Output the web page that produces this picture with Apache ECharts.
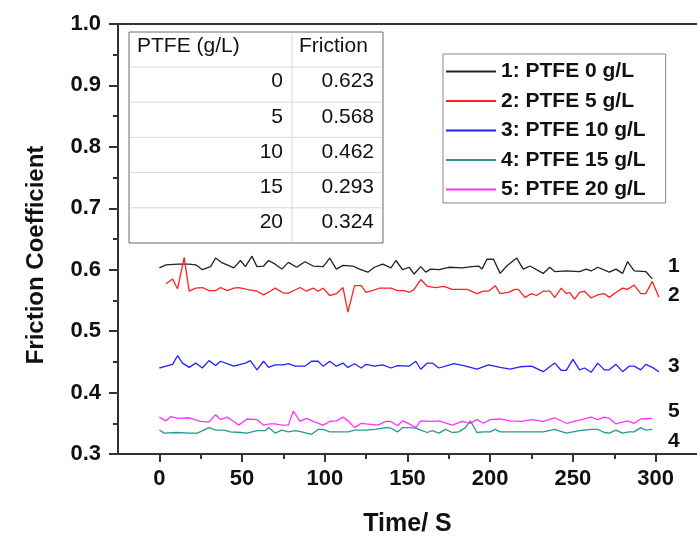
<!DOCTYPE html>
<html>
<head>
<meta charset="utf-8">
<script src="https://cdn.jsdelivr.net/npm/echarts@6/dist/echarts.min.js"></script>
<style>
  html, body { margin: 0; padding: 0; background: #fff; }
  #chart { width: 697px; height: 538px; }
</style>
</head>
<body>
<div id="chart"></div>
<script>
// friction coefficient vs time, one pair of arrays per PTFE concentration
const t1 = [0, 4, 11, 18, 22, 26, 31, 34, 38, 41, 45, 49, 52, 56, 59, 63, 66, 70, 74, 78, 83, 88, 93, 99, 103, 107, 111, 117, 121, 126, 130, 135, 140, 143, 147, 151, 154, 158, 161, 164, 169, 175, 183, 189, 193, 195, 198, 202, 206, 210, 216, 220, 224, 232, 236, 239, 246, 254, 258, 261, 265, 272, 276, 280, 283, 287, 294, 298];
const v1 = [0.603, 0.608, 0.609, 0.609, 0.608, 0.600, 0.605, 0.619, 0.611, 0.608, 0.603, 0.615, 0.605, 0.622, 0.605, 0.606, 0.615, 0.609, 0.601, 0.612, 0.604, 0.613, 0.606, 0.605, 0.619, 0.601, 0.607, 0.606, 0.601, 0.596, 0.604, 0.609, 0.603, 0.615, 0.600, 0.604, 0.593, 0.605, 0.596, 0.601, 0.600, 0.604, 0.603, 0.605, 0.606, 0.601, 0.617, 0.617, 0.594, 0.606, 0.619, 0.601, 0.606, 0.594, 0.604, 0.597, 0.598, 0.597, 0.601, 0.598, 0.604, 0.596, 0.601, 0.594, 0.613, 0.598, 0.597, 0.585];

const t2 = [4, 8, 11, 15, 18, 22, 26, 30, 34, 37, 41, 45, 48, 53, 59, 63, 67, 70, 75, 78, 82, 85, 89, 93, 96, 99, 103, 107, 111, 114, 118, 122, 125, 130, 133, 140, 144, 148, 151, 154, 158, 162, 167, 172, 177, 182, 186, 192, 196, 199, 203, 206, 211, 215, 217, 221, 225, 228, 232, 236, 239, 243, 246, 248, 251, 254, 257, 261, 265, 269, 272, 276, 280, 283, 287, 291, 294, 298, 302];
const v2 = [0.577, 0.585, 0.569, 0.620, 0.565, 0.570, 0.571, 0.566, 0.566, 0.571, 0.566, 0.570, 0.571, 0.568, 0.565, 0.559, 0.565, 0.570, 0.562, 0.562, 0.567, 0.571, 0.565, 0.570, 0.565, 0.570, 0.558, 0.561, 0.571, 0.531, 0.574, 0.574, 0.563, 0.567, 0.570, 0.570, 0.566, 0.566, 0.563, 0.568, 0.584, 0.573, 0.571, 0.573, 0.568, 0.568, 0.568, 0.561, 0.565, 0.565, 0.574, 0.561, 0.563, 0.568, 0.568, 0.555, 0.561, 0.558, 0.565, 0.565, 0.555, 0.570, 0.561, 0.563, 0.552, 0.563, 0.565, 0.554, 0.559, 0.561, 0.555, 0.563, 0.570, 0.568, 0.575, 0.561, 0.561, 0.581, 0.555];

const t3 = [0, 4, 8, 11, 14, 18, 22, 26, 30, 34, 37, 41, 45, 49, 52, 55, 59, 63, 66, 70, 75, 78, 82, 88, 92, 96, 99, 103, 107, 111, 114, 118, 122, 125, 130, 135, 140, 144, 151, 155, 158, 162, 165, 169, 174, 178, 184, 192, 199, 206, 212, 218, 225, 232, 239, 243, 246, 250, 254, 257, 261, 265, 269, 272, 276, 280, 284, 287, 291, 294, 298, 302];
const v3 = [0.440, 0.443, 0.446, 0.460, 0.448, 0.441, 0.448, 0.440, 0.452, 0.444, 0.451, 0.447, 0.443, 0.446, 0.448, 0.452, 0.437, 0.451, 0.441, 0.445, 0.445, 0.447, 0.443, 0.443, 0.451, 0.451, 0.443, 0.451, 0.443, 0.448, 0.441, 0.447, 0.440, 0.446, 0.443, 0.445, 0.440, 0.444, 0.443, 0.451, 0.438, 0.448, 0.448, 0.440, 0.444, 0.447, 0.444, 0.438, 0.445, 0.441, 0.438, 0.442, 0.443, 0.434, 0.448, 0.436, 0.436, 0.454, 0.437, 0.440, 0.433, 0.448, 0.437, 0.437, 0.446, 0.434, 0.443, 0.443, 0.437, 0.446, 0.441, 0.434];

const t4 = [0, 3, 10, 18, 23, 30, 34, 39, 43, 49, 53, 59, 64, 66, 70, 74, 78, 82, 86, 92, 96, 99, 103, 110, 114, 118, 125, 130, 137, 140, 144, 147, 151, 155, 158, 162, 165, 169, 173, 177, 181, 185, 188, 192, 196, 200, 203, 206, 212, 218, 225, 232, 239, 246, 254, 261, 265, 269, 272, 276, 280, 284, 287, 291, 294, 298];
const v4 = [0.339, 0.334, 0.335, 0.334, 0.334, 0.343, 0.339, 0.339, 0.336, 0.335, 0.334, 0.338, 0.338, 0.343, 0.334, 0.339, 0.336, 0.338, 0.336, 0.332, 0.340, 0.340, 0.336, 0.336, 0.336, 0.339, 0.339, 0.340, 0.343, 0.342, 0.336, 0.343, 0.343, 0.342, 0.339, 0.335, 0.338, 0.334, 0.340, 0.335, 0.336, 0.343, 0.354, 0.335, 0.336, 0.336, 0.340, 0.336, 0.336, 0.336, 0.336, 0.336, 0.340, 0.334, 0.338, 0.340, 0.340, 0.335, 0.334, 0.339, 0.334, 0.336, 0.336, 0.343, 0.339, 0.340];

const t5 = [0, 4, 7, 11, 18, 25, 30, 34, 37, 41, 45, 48, 53, 59, 63, 67, 70, 74, 78, 81, 85, 89, 93, 99, 103, 107, 111, 114, 118, 122, 125, 132, 137, 140, 144, 147, 151, 155, 158, 165, 169, 177, 183, 188, 192, 196, 200, 206, 212, 219, 225, 232, 239, 246, 254, 261, 265, 269, 272, 276, 283, 287, 291, 298];
const v5 = [0.360, 0.354, 0.361, 0.358, 0.359, 0.353, 0.352, 0.364, 0.356, 0.360, 0.353, 0.347, 0.357, 0.356, 0.347, 0.349, 0.349, 0.347, 0.347, 0.370, 0.353, 0.358, 0.353, 0.347, 0.353, 0.354, 0.360, 0.354, 0.343, 0.350, 0.349, 0.347, 0.353, 0.353, 0.346, 0.354, 0.349, 0.343, 0.354, 0.353, 0.354, 0.347, 0.353, 0.350, 0.356, 0.350, 0.356, 0.357, 0.354, 0.353, 0.356, 0.353, 0.359, 0.350, 0.355, 0.360, 0.356, 0.360, 0.358, 0.349, 0.354, 0.350, 0.357, 0.358];

const seriesNames = ["1: PTFE 0 g/L", "2: PTFE 5 g/L", "3: PTFE 10 g/L", "4: PTFE 15 g/L", "5: PTFE 20 g/L"];
const seriesColors = ["#222222", "#ff2222", "#2222ff", "#2a9890", "#ff33ff"];

// inset table
const tableHeader = ["PTFE (g/L)", "Friction"];
const tablePtfe = ["0", "5", "10", "15", "20"];
const tableFriction = ["0.623", "0.568", "0.462", "0.293", "0.324"];

const xTicks = [0, 50, 100, 150, 200, 250, 300];
const xMinorTicks = [25, 75, 125, 175, 225, 275];

const times = [t1, t2, t3, t4, t5];
const values = [v1, v2, v3, v4, v5];

const chart = echarts.init(document.getElementById("chart"));

const FONT = "'Liberation Sans', Arial, sans-serif";
const AXIS_COLOR = "#333";

const series = seriesNames.map((name, k) => ({
  name,
  type: "line",
  data: times[k].map((t, i) => [t, values[k][i]]),
  symbol: "none",
  lineStyle: { color: seriesColors[k], width: 1.3 },
  itemStyle: { color: seriesColors[k] },
  xAxisIndex: 0,
  yAxisIndex: 0,
  z: 3,
}));

// table drawn as graphic rects/lines/texts
const tbl = { x: 129, y: 32, w: 254, col: 292, headH: 35, rowH: 35.2 };
const tblGraphic = [];
const nRows = tablePtfe.length;
const tblH = tbl.headH + tbl.rowH * nRows;
tblGraphic.push({
  type: "rect",
  shape: { x: tbl.x, y: tbl.y, width: tbl.w, height: tblH },
  style: { fill: "#fff", stroke: "#6a6a6a", lineWidth: 1 },
  z: 10,
});
tblGraphic.push({
  type: "line",
  shape: { x1: tbl.col, y1: tbl.y + 1, x2: tbl.col, y2: tbl.y + tblH - 1 },
  style: { stroke: "#d8d8d8", lineWidth: 1 },
  z: 11,
});
for (let r = 0; r < nRows; r++) {
  const yy = tbl.y + tbl.headH + r * tbl.rowH;
  tblGraphic.push({
    type: "line",
    shape: { x1: tbl.x + 1, y1: yy, x2: tbl.x + tbl.w - 1, y2: yy },
    style: { stroke: "#d8d8d8", lineWidth: 1 },
    z: 11,
  });
}
const tFont = "21px " + FONT;
tblGraphic.push({
  type: "text", x: 137, y: tbl.y + tbl.headH / 2 - 3,
  style: { text: tableHeader[0], font: tFont, fill: "#111", align: "left", verticalAlign: "middle" }, z: 12,
});
tblGraphic.push({
  type: "text", x: 299, y: tbl.y + tbl.headH / 2 - 3,
  style: { text: tableHeader[1], font: tFont, fill: "#111", align: "left", verticalAlign: "middle" }, z: 12,
});
for (let r = 0; r < nRows; r++) {
  const cy = tbl.y + tbl.headH + r * tbl.rowH + tbl.rowH / 2 - 3;
  tblGraphic.push({
    type: "text", x: 283, y: cy,
    style: { text: tablePtfe[r], font: tFont, fill: "#111", align: "right", verticalAlign: "middle" }, z: 12,
  });
  tblGraphic.push({
    type: "text", x: 374, y: cy,
    style: { text: tableFriction[r], font: tFont, fill: "#111", align: "right", verticalAlign: "middle" }, z: 12,
  });
}

// curve numbers on the right
const curveLabels = ["1", "2", "3", "5", "4"];
const curveLabelY = [266, 295, 366, 411, 441];
const labelGraphic = curveLabels.map((s, i) => ({
  type: "text", x: 668, y: curveLabelY[i],
  style: { text: s, font: "bold 21px " + FONT, fill: "#111", align: "left", verticalAlign: "middle" },
  z: 12,
}));

chart.setOption({
  backgroundColor: "#fff",
  animation: false,
  grid: { left: 118, right: 0, top: 24, bottom: 84, outerBoundsMode: "none" },
  legend: {
    orient: "vertical",
    left: 443,
    top: 54,
    data: seriesNames,
    icon: "rect",
    itemWidth: 50,
    itemHeight: 2,
    itemGap: 8.5,
    padding: [7, 20, 3, 3],
    borderColor: "#888",
    borderWidth: 1,
    backgroundColor: "#fff",
    textStyle: { fontFamily: FONT, fontWeight: "bold", fontSize: 21, color: "#111" },
    z: 10,
  },
  xAxis: [
    {
      type: "value",
      min: -25,
      max: 325,
      name: "Time/ S",
      nameLocation: "middle",
      nameGap: 58,
      nameTextStyle: { fontFamily: FONT, fontWeight: "bold", fontSize: 25, color: "#111" },
      axisLine: { show: true, onZero: false, lineStyle: { color: AXIS_COLOR, width: 2 } },
      axisTick: { show: true, customValues: xTicks, length: 8, lineStyle: { color: AXIS_COLOR, width: 2 } },
      axisLabel: { customValues: xTicks, margin: 14, fontFamily: FONT, fontWeight: "bold", fontSize: 22, color: "#111" },
      splitLine: { show: false },
    },
    {
      type: "value",
      min: -25,
      max: 325,
      position: "bottom",
      axisLine: { show: false },
      axisTick: { show: true, customValues: xMinorTicks, length: 5, lineStyle: { color: AXIS_COLOR, width: 2 } },
      axisLabel: { show: false },
      splitLine: { show: false },
    },
    {
      type: "value",
      min: -25,
      max: 325,
      position: "top",
      axisLine: { show: true, lineStyle: { color: AXIS_COLOR, width: 2 } },
      axisTick: { show: false },
      axisLabel: { show: false },
      splitLine: { show: false },
    },
  ],
  yAxis: {
    type: "value",
    min: 0.3,
    max: 1.0,
    interval: 0.1,
    name: "Friction Coefficient",
    nameLocation: "middle",
    nameGap: 70,
    nameRotate: 90,
    nameTextStyle: { fontFamily: FONT, fontWeight: "bold", fontSize: 24, color: "#111", padding: [0, 32, 0, 0] },
    axisLine: { show: true, onZero: false, lineStyle: { color: AXIS_COLOR, width: 2 } },
    axisTick: { show: true, length: 9, lineStyle: { color: AXIS_COLOR, width: 2 } },
    minorTick: { show: true, splitNumber: 2, length: 5, lineStyle: { color: AXIS_COLOR, width: 2 } },
    axisLabel: {
      margin: 17,
      fontFamily: FONT, fontWeight: "bold", fontSize: 22, color: "#111",
      formatter: (v) => v.toFixed(1),
    },
    splitLine: { show: false },
  },
  graphic: tblGraphic.concat(labelGraphic),
  series,
});
</script>
</body>
</html>
